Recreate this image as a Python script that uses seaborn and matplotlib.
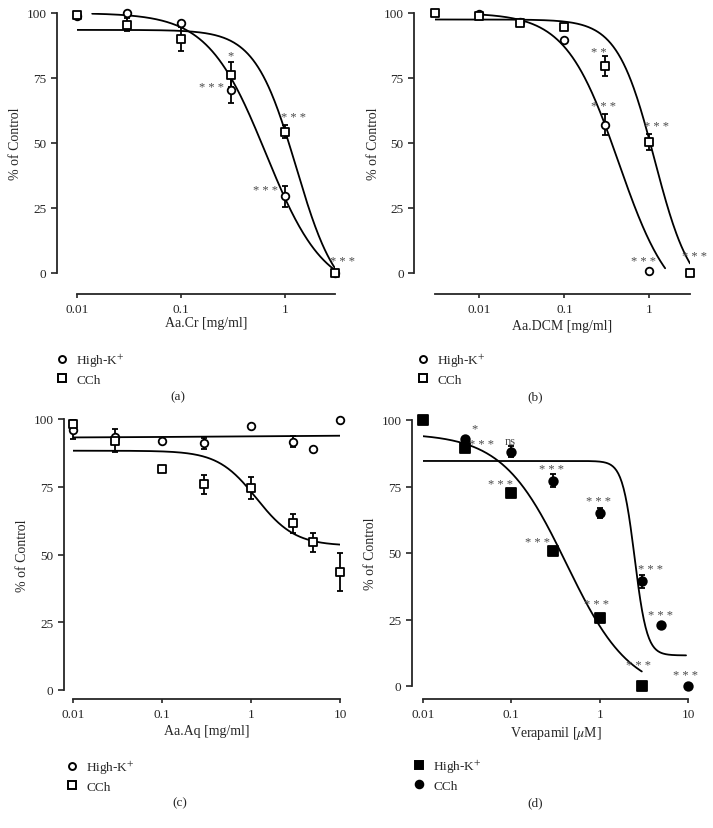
import numpy as np
import pandas as pd
import matplotlib.pyplot as plt
import seaborn as sns
from matplotlib.lines import Line2D
from matplotlib.ticker import NullLocator

# (a) Aa.Cr
a_hk_x = [0.01, 0.03, 0.1, 0.3, 1, 3]
a_hk_y = [99.0, 100.0, 96.2, 70.5, 29.5, 0.0]
a_hk_err = [0, 0, 0, 5.0, 4.0, 0]
a_cch_x = [0.01, 0.03, 0.1, 0.3, 1, 3]
a_cch_y = [99.4, 95.4, 90.0, 76.2, 54.4, 0.0]
a_cch_err = [0, 2.5, 4.5, 4.8, 2.5, 0]
# fit curves: top, bottom, IC50, hill, x from, x to
a_hk_fit = [100, -8, 0.65, 1.56, 0.014, 3]
a_cch_fit = [93.5, -12, 1.27, 2.2, 0.01, 3]
a_marks = [(0.3, 83.6, '*'), (0.195, 71.4, '* * *'), (1.21, 59.9, '* * *'),
           (0.65, 31.9, '* * *'), (3.57, 4.7, '* * *')]

# (b) Aa.DCM
b_hk_x = [0.01, 0.03, 0.1, 0.3, 1]
b_hk_y = [99.5, 96.5, 89.5, 57.0, 0.6]
b_hk_err = [0, 0, 0, 4.0, 0]
b_cch_x = [0.003, 0.01, 0.03, 0.1, 0.3, 1, 3]
b_cch_y = [100.0, 99.0, 96.2, 94.5, 79.7, 50.3, 0.0]
b_cch_err = [0, 0, 0, 0, 3.8, 3.0, 0]
b_hk_fit = [100, -15, 0.434, 1.4, 0.011, 1.53]
b_cch_fit = [97.5, -10, 1.146, 2.0, 0.003, 3]
b_marks = [(0.251, 84.9, '* *'), (0.288, 64.1, '* * *'), (1.22, 56.4, '* * *'),
           (0.85, 4.5, '* * *'), (3.39, 6.7, '* * *')]

# (c) Aa.Aq
c_hk_x = [0.01, 0.03, 0.1, 0.3, 1, 3, 5, 10]
c_hk_y = [96.0, 93.5, 91.8, 91.0, 97.3, 91.6, 88.8, 99.8]
c_hk_err = [3.5, 0, 0, 2.0, 0, 2.0, 0, 0]
c_cch_x = [0.01, 0.03, 0.1, 0.3, 1, 3, 5, 10]
c_cch_y = [98.0, 92.0, 81.5, 75.9, 74.5, 61.6, 54.5, 43.5]
c_cch_err = [1.5, 4.3, 0.8, 3.5, 4.0, 3.5, 3.5, 7.0]
c_hk_fit = [93.0, 94.2, 1.0, 0.35, 0.01, 10]
c_cch_fit = [88.3, 53.2, 1.15, 2.0, 0.01, 10]
c_marks = []

# (d) Verapamil
d_hk_x = [0.01, 0.03, 0.1, 0.3, 1, 3]
d_hk_y = [100.0, 89.5, 72.5, 50.6, 25.5, 0.0]
d_hk_err = [0, 0, 0, 1.5, 1.5, 0]
d_cch_x = [0.03, 0.1, 0.3, 1, 3, 5, 10]
d_cch_y = [92.9, 88.1, 77.2, 65.0, 39.3, 23.0, 0.0]
d_cch_err = [0, 2.0, 2.5, 2.0, 2.5, 0, 0]
d_hk_fit = [95, -3, 0.42, 1.2, 0.01, 3]
d_cch_fit = [84.6, 11.5, 2.49, 6.25, 0.01, 9.5]
d_marks = [(0.0385, 97.0, '*'), (0.046, 91.0, '* * *'), (0.098, 92.1, 'ns'),
           (0.285, 81.6, '* * *'), (0.0759, 76.0, '* * *'), (0.98, 69.5, '* * *'),
           (0.2, 54.3, '* * *'), (3.8, 43.8, '* * *'), (0.93, 30.8, '* * *'),
           (4.83, 26.8, '* * *'), (2.77, 8.0, '* * *'), (9.3, 4.0, '* * *')]

sns.set_style("ticks")
plt.rcParams['font.family'] = ['Liberation Serif', 'DejaVu Serif']
plt.rcParams['mathtext.fontset'] = 'stix'

fig = plt.figure(figsize=(7.13, 8.29), dpi=100)


def curve_df(p):
    top, bottom, ic50, hill, x0, x1 = p
    x = np.geomspace(x0, x1, 300)
    y = bottom + (top - bottom) / (1 + (x / ic50) ** hill)
    return pd.DataFrame({'x': x, 'y': y})


def draw_panel(rect, series, fits, marks, xlim, xticks, xlabel, offs, xpad=3, filled=False):
    ax = fig.add_axes(rect)
    ax.set_xscale('log')
    for x, y, err, mk, s in series:
        x = np.array(x); y = np.array(y); err = np.array(err)
        m = err > 0
        ax.errorbar(x[m], y[m], yerr=err[m], fmt='none', ecolor='black',
                    elinewidth=1.3, capsize=2.5, capthick=1.3, zorder=2, clip_on=False)
    for p in fits:
        sns.lineplot(data=curve_df(p), x='x', y='y', color='black', lw=1.3,
                     estimator=None, sort=False, ax=ax, zorder=3)
    for x, y, err, mk, s in series:
        df = pd.DataFrame({'x': x, 'y': y})
        sns.scatterplot(data=df, x='x', y='y', marker=mk, s=s,
                        facecolor='black' if filled else 'white',
                        edgecolor='black', linewidth=1.3, ax=ax, zorder=4, clip_on=False)
    for x, y, t in marks:
        ax.text(x, y, t, ha='center', va='center', fontsize=9,
                color='#4a4a4a', clip_on=False)
    ax.set_xlim(*xlim)
    ax.set_ylim(0, 100)
    ax.set_xticks(xticks)
    ax.set_xticklabels([f'{v:g}' for v in xticks])
    ax.xaxis.set_minor_locator(NullLocator())
    ax.set_yticks([0, 25, 50, 75, 100])
    ax.tick_params(axis='y', direction='out', length=4, width=1.2, labelsize=9.5)
    ax.tick_params(axis='x', direction='out', length=3, width=1.2, labelsize=9.5)
    ax.set_xlabel(xlabel, fontsize=10, labelpad=xpad)
    ax.set_ylabel('% of Control', fontsize=10, labelpad=3)
    sns.despine(ax=ax, offset={'left': offs[0], 'bottom': offs[1]})
    for sp in ['left', 'bottom']:
        ax.spines[sp].set_linewidth(1.3)
    return ax


def add_legend(ax, pos, hk_mk, cch_mk, filled=False, ms=(5, 5.5)):
    fc = 'black' if filled else 'white'
    h = [Line2D([], [], ls='none', marker=hk_mk, mfc=fc, mec='black', mew=1.4, ms=ms[0]),
         Line2D([], [], ls='none', marker=cch_mk, mfc=fc, mec='black', mew=1.4, ms=ms[1])]
    ax.legend(h, ['High-K$^{+}$', 'CCh'], loc='upper left', frameon=False,
              bbox_to_anchor=(pos[0] / 713, 1 - pos[1] / 829),
              bbox_transform=fig.transFigure, fontsize=9.5, handlelength=0.8,
              handletextpad=0.7, labelspacing=0.35, borderpad=0)


axa = draw_panel([77 / 713, 1 - 274 / 829, 258 / 713, 260 / 829],
                 [(a_hk_x, a_hk_y, a_hk_err, 'o', 30), (a_cch_x, a_cch_y, a_cch_err, 's', 30)],
                 [a_hk_fit, a_cch_fit], a_marks, (0.01, 3), [0.01, 0.1, 1],
                 'Aa.Cr [mg/ml]', (14.4, 15), xpad=0.5)
add_legend(axa, (50, 346), 'o', 's')

axb = draw_panel([435 / 713, 1 - 274 / 829, 255 / 713, 260 / 829],
                 [(b_hk_x, b_hk_y, b_hk_err, 'o', 30), (b_cch_x, b_cch_y, b_cch_err, 's', 30)],
                 [b_hk_fit, b_cch_fit], b_marks, (0.003, 3), [0.01, 0.1, 1],
                 'Aa.DCM [mg/ml]', (15, 15))
add_legend(axb, (411, 346), 'o', 's')

axc = draw_panel([73 / 713, 1 - 691 / 829, 267 / 713, 271 / 829],
                 [(c_hk_x, c_hk_y, c_hk_err, 'o', 30), (c_cch_x, c_cch_y, c_cch_err, 's', 30)],
                 [c_hk_fit, c_cch_fit], c_marks, (0.01, 10), [0.01, 0.1, 1, 10],
                 'Aa.Aq [mg/ml]', (6.5, 6.5))
add_legend(axc, (60, 753), 'o', 's')

axd = draw_panel([423 / 713, 1 - 687 / 829, 265 / 713, 266 / 829],
                 [(d_hk_x, d_hk_y, d_hk_err, 's', 50), (d_cch_x, d_cch_y, d_cch_err, 'o', 38)],
                 [d_hk_fit, d_cch_fit], d_marks, (0.01, 10), [0.01, 0.1, 1, 10],
                 'Verapamil [$\\mu$M]', (8, 9.5), filled=True)
add_legend(axd, (407, 752), 's', 'o', filled=True, ms=(6, 5.5))

for lab, x, y in [('(a)', 178, 397), ('(b)', 535, 397), ('(c)', 180, 803), ('(d)', 535, 803)]:
    fig.text(x / 713, 1 - y / 829, lab, ha='center', va='center', fontsize=9.5)

fig.savefig('out.png', dpi=100)
